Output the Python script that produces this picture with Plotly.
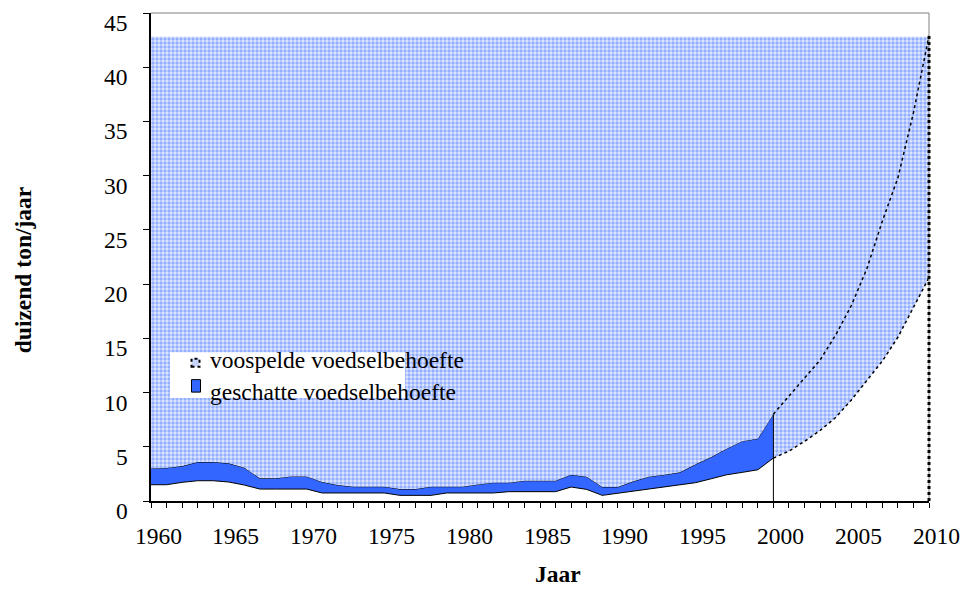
import plotly.graph_objects as go

# ---------------- data ----------------
years_hist = list(range(1960, 2001))
lower_hist = [1.5, 1.5, 1.72, 1.87, 1.87, 1.75, 1.47, 1.1, 1.1, 1.1,
              1.1, 0.74, 0.74, 0.74, 0.74, 0.74, 0.52, 0.52, 0.52, 0.74,
              0.74, 0.74, 0.74, 0.86, 0.86, 0.86, 0.86, 1.29, 1.07, 0.52,
              0.71, 0.89, 1.07, 1.26, 1.44, 1.69, 2.05, 2.42, 2.64, 2.88,
              3.96]
upper_hist = [3.0, 3.05, 3.22, 3.59, 3.59, 3.47, 3.07, 2.09, 2.09, 2.27,
              2.27, 1.75, 1.47, 1.32, 1.32, 1.32, 1.1, 1.1, 1.32, 1.32,
              1.32, 1.53, 1.69, 1.69, 1.87, 1.87, 1.87, 2.42, 2.24, 1.29,
              1.29, 1.81, 2.24, 2.42, 2.64, 3.38, 4.05, 4.82, 5.52, 5.74,
              8.01]
years_fc = list(range(2000, 2011))
fc_low = [3.96, 4.6, 5.5, 6.5, 7.7, 9.3, 11.1, 12.9, 15.1, 17.8, 20.6]
fc_high = [8.01, 9.7, 11.3, 13.0, 15.3, 18.0, 21.4, 25.8, 29.8, 35.8, 42.9]
pattern_top = 42.8

y_ticks = list(range(0, 50, 5))
x_major = list(range(1960, 2015, 5))
x_minor = list(range(1960, 2011))

legend_labels = ["voospelde voedselbehoefte", "geschatte voedselbehoefte"]
x_title = "Jaar"
y_title = "duizend ton/jaar"

# ---------------- style ----------------
FONT = "Liberation Serif"
FS = 23.5
BAND = "#3366ff"
OFF = 8  # page body margin
# plot area in page pixels: x 151..929, y 12.5..501
PX0, PX1, PY0, PY1 = 151, 929, 12.5, 501
W, H = 960, 581
L = PX0 - OFF
T = PY0 - OFF
R = W - (PX1 - OFF)
B = H - (PY1 - OFF)
PW, PH = PX1 - PX0, PY1 - PY0


def px_x(px):
    return (px - PX0) / PW


def px_y(py):
    return (PY1 - py) / PH


fig = go.Figure()

fig.add_trace(go.Scatter(x=years_hist, y=lower_hist, mode="lines",
                         line=dict(color="black", width=1), hoverinfo="skip",
                         showlegend=False))
fig.add_trace(go.Scatter(x=years_hist, y=upper_hist, mode="lines", fill="tonexty",
                         fillcolor=BAND, line=dict(color="black", width=1),
                         showlegend=False))
bound_x = years_hist + years_fc
bound_y = upper_hist + fc_low
fig.add_trace(go.Scatter(x=bound_x, y=bound_y, mode="lines",
                         line=dict(width=0), hoverinfo="skip", showlegend=False))
fig.add_trace(go.Scatter(x=[years_hist[0], years_fc[-1]], y=[pattern_top, pattern_top],
                         mode="lines", line=dict(width=0), fill="tonexty",
                         fillcolor="rgba(0,0,0,0)",
                         fillpattern=dict(shape=".", fgcolor="#4a78ff", bgcolor="#dfe7ff",
                                          size=4, solidity=0.55),
                         hoverinfo="skip", showlegend=False))
fig.add_trace(go.Scatter(x=years_fc, y=fc_low, mode="lines",
                         line=dict(color="black", width=1.5, dash="dot"), showlegend=False))
fig.add_trace(go.Scatter(x=years_fc, y=fc_high, mode="lines",
                         line=dict(color="black", width=1.5, dash="dot"), showlegend=False))
fig.add_trace(go.Scatter(x=[years_hist[-1], years_hist[-1]], y=[0, upper_hist[-1]],
                         mode="lines", line=dict(color="black", width=1), showlegend=False))

tfont = dict(family=FONT, size=FS, color="black")
annotations = []
for v in y_ticks:
    annotations.append(dict(x=0, xref="paper", y=v, yref="y", text=str(v),
                            xanchor="right", yanchor="middle", xshift=-21, yshift=-10,
                            showarrow=False, font=tfont))
for v in x_major:
    annotations.append(dict(x=v, xref="x", y=0, yref="paper", text=str(v),
                            xanchor="center", yanchor="top", xshift=7, yshift=-20,
                            showarrow=False, font=tfont))
annotations.append(dict(x=px_x(557.5), y=px_y(589), xref="paper", yref="paper",
                        text="<b>%s</b>" % x_title, showarrow=False,
                        xanchor="center", yanchor="bottom", font=tfont))
annotations.append(dict(x=px_x(OFF), y=px_y(270), xref="paper", yref="paper",
                        text="<b>%s</b>" % y_title, showarrow=False, textangle=-90,
                        xanchor="left", yanchor="middle", font=tfont))
annotations.append(dict(x=px_x(208), y=px_y(360), xref="paper", yref="paper",
                        text=legend_labels[0], showarrow=False, xanchor="left",
                        yanchor="middle", font=tfont))
annotations.append(dict(x=px_x(208), y=px_y(391.5), xref="paper", yref="paper",
                        text=legend_labels[1], showarrow=False, xanchor="left",
                        yanchor="middle", font=tfont))

shapes = [
    dict(type="line", xref="paper", yref="paper", x0=0, x1=1, y0=1, y1=1,
         line=dict(color="#808080", width=1)),
    dict(type="line", xref="paper", yref="paper", x0=1, x1=1, y0=0, y1=1,
         line=dict(color="#808080", width=1)),
    # end of forecast series at 2010 (right edge of the x range)
    dict(type="line", xref="paper", yref="y", x0=1, x1=1, y0=0, y1=fc_high[-1],
         line=dict(color="black", width=3, dash="dot"), layer="above"),
    dict(type="rect", xref="paper", yref="paper", x0=px_x(170), x1=px_x(405),
         y0=px_y(398), y1=px_y(352), fillcolor="white", line=dict(width=0),
         layer="above"),
    dict(type="rect", xref="paper", yref="paper", x0=px_x(191.5), x1=px_x(199.5),
         y0=px_y(366.5), y1=px_y(358.5), fillcolor="#c8d6ff",
         line=dict(color="black", width=2, dash="dot"), layer="above"),
    dict(type="rect", xref="paper", yref="paper", x0=px_x(191.5), x1=px_x(200.5),
         y0=px_y(392), y1=px_y(379.5), fillcolor=BAND,
         line=dict(color="black", width=1), layer="above"),
]

fig.update_layout(
    width=W, height=H,
    margin=dict(l=L, r=R, t=T, b=B, pad=0),
    paper_bgcolor="white", plot_bgcolor="white",
    showlegend=False,
    annotations=annotations, shapes=shapes,
    font=tfont,
    xaxis=dict(range=[1960, 2010], tickvals=x_minor, showticklabels=False,
               ticks="outside", ticklen=5, tickcolor="black", tickwidth=1,
               showline=True, linecolor="black", linewidth=2,
               showgrid=False, zeroline=False, fixedrange=True),
    yaxis=dict(range=[0, 45], tickvals=y_ticks, showticklabels=False,
               ticks="outside", ticklen=6, tickcolor="black", tickwidth=1,
               showline=True, linecolor="black", linewidth=1.5,
               showgrid=False, zeroline=False, fixedrange=True),
)

fig.write_html("out.html")
